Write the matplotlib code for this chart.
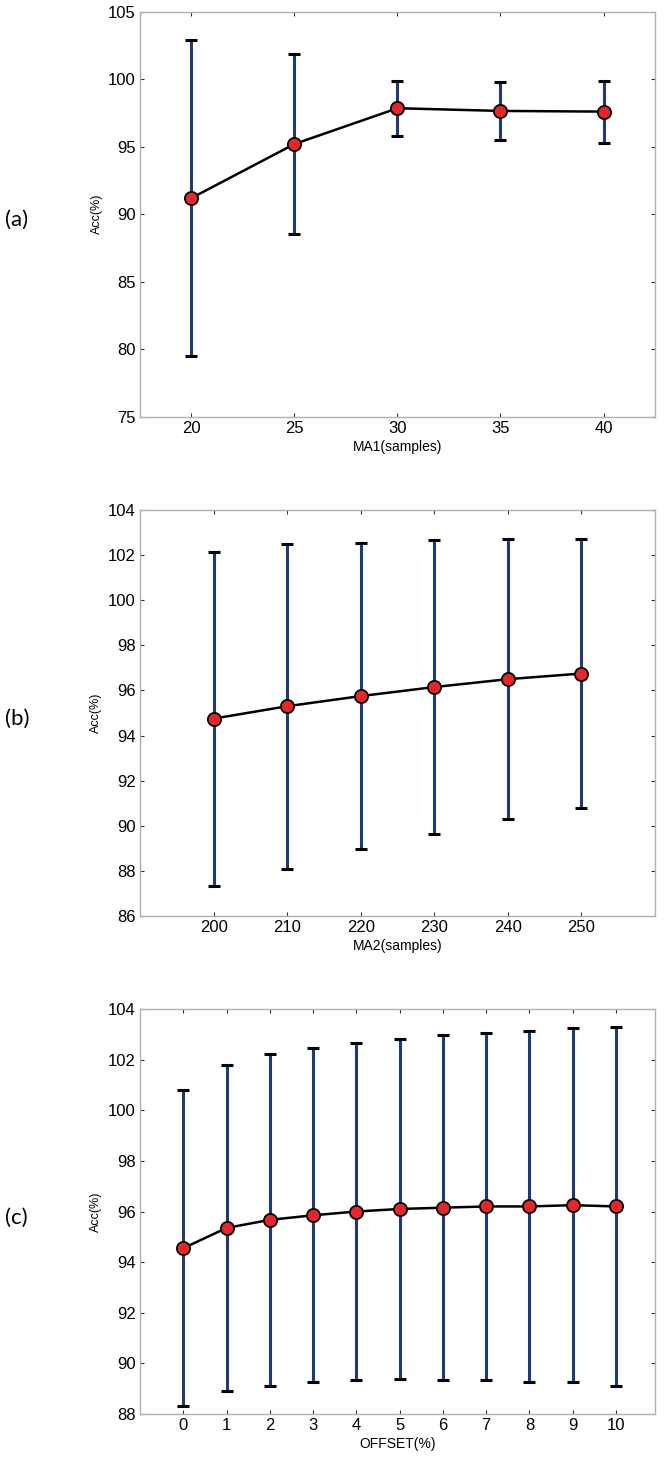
import numpy as np
import matplotlib
matplotlib.use("Agg")
import matplotlib.pyplot as plt

# panel (a): MA1 window
ma1 = [20, 25, 30, 35, 40]
acc_a = [91.2, 95.2, 97.85, 97.65, 97.6]
std_a = [11.7, 6.7, 2.05, 2.15, 2.3]

# panel (b): MA2 window
ma2 = [200, 210, 220, 230, 240, 250]
acc_b = [94.75, 95.3, 95.75, 96.15, 96.5, 96.75]
std_b = [7.4, 7.2, 6.8, 6.5, 6.2, 5.95]

# panel (c): offset
offset = [0, 1, 2, 3, 4, 5, 6, 7, 8, 9, 10]
acc_c = [94.55, 95.35, 95.67, 95.85, 96.0, 96.1, 96.15, 96.2, 96.2, 96.25, 96.2]
std_c = [6.25, 6.45, 6.55, 6.6, 6.65, 6.72, 6.82, 6.87, 6.95, 7.0, 7.1]

plt.rcParams['font.family'] = ['Liberation Sans', 'DejaVu Sans']

W, H = 664, 1463
fig = plt.figure(figsize=(W / 100, H / 100), dpi=100)


def make_axes(top_px, bot_px):
    left, right = 140, 655
    return fig.add_axes([left / W, 1 - bot_px / H, (right - left) / W, (bot_px - top_px) / H])


def draw_panel(ax, x, y, err, xlim, ylim, yticks, xlabel, tag):
    _, caps, bars = ax.errorbar(x, y, yerr=err, fmt='none', ecolor='#1f3a78',
                                elinewidth=2.2, capsize=4.5, capthick=2.2, zorder=2)
    for c in caps:
        c.set_color('black')
        c.set_markeredgecolor('black')
    ax.plot(x, y, '-o', color='black', lw=1.8, ms=9.5,
            markerfacecolor='#e8262a', markeredgecolor='black', markeredgewidth=1.3, zorder=3)
    ax.set_xlim(*xlim)
    ax.set_ylim(*ylim)
    ax.set_xticks(x)
    ax.set_yticks(yticks)
    ax.tick_params(direction='in', length=3, width=0.8, color='#333333',
                   top=True, right=True, labelsize=12, pad=3)
    for s in ax.spines.values():
        s.set_color('#b0b0b0')
        s.set_linewidth(1.0)
    ax.set_xlabel(xlabel, fontsize=10, labelpad=3)
    ax.set_ylabel('Acc(%)', fontsize=9, labelpad=4)
    pos = ax.get_position()
    fig.text(5 / W, pos.y0 + pos.height / 2 - 6 / H, tag, fontsize=16,
             family=['Lato', 'DejaVu Sans'], ha='left', va='center')


ax1 = make_axes(11.7, 416.7)
draw_panel(ax1, ma1, acc_a, std_a, (17.5, 42.5), (75, 105), np.arange(75, 106, 5),
           'MA1(samples)', '(a)')

ax2 = make_axes(510, 916)
draw_panel(ax2, ma2, acc_b, std_b, (190, 260), (86, 104), np.arange(86, 105, 2),
           'MA2(samples)', '(b)')

ax3 = make_axes(1009, 1414)
draw_panel(ax3, offset, acc_c, std_c, (-1, 10.9), (88, 104), np.arange(88, 105, 2),
           'OFFSET(%)', '(c)')

fig.savefig('out.png', dpi=100)
